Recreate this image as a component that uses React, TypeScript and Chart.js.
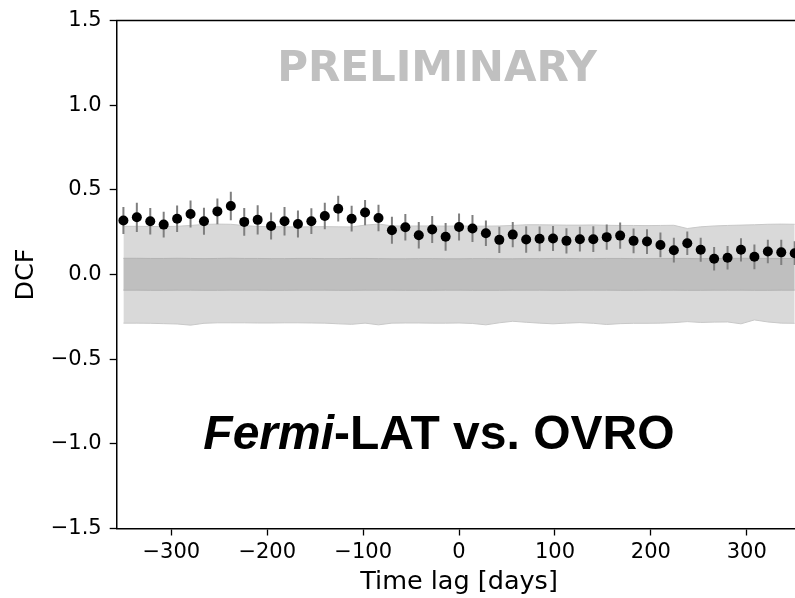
import React, { useEffect, useRef } from "react";
import { Chart, registerables } from "chart.js";

Chart.register(...registerables);

// Time lags (days)
const lags = [
  -350, -336, -322, -308, -294, -280, -266, -252, -238, -224,
  -210, -196, -182, -168, -154, -140, -126, -112, -98, -84,
  -70, -56, -42, -28, -14, 0, 14, 28, 42, 56,
  70, 84, 98, 112, 126, 140, 154, 168, 182, 196,
  210, 224, 238, 252, 266, 280, 294, 308, 322, 336, 350,
];

// DCF values
const dcf = [
  0.319, 0.338, 0.315, 0.295, 0.330, 0.358, 0.315, 0.373, 0.405, 0.311,
  0.323, 0.287, 0.315, 0.299, 0.315, 0.346, 0.389, 0.330, 0.366, 0.334,
  0.262, 0.279, 0.232, 0.266, 0.223, 0.281, 0.272, 0.244, 0.205, 0.236,
  0.207, 0.211, 0.213, 0.199, 0.209, 0.209, 0.221, 0.230, 0.199, 0.195,
  0.175, 0.144, 0.185, 0.146, 0.093, 0.099, 0.146, 0.105, 0.136, 0.131, 0.126,
];

// DCF errors
const dcfErr = [
  0.080, 0.086, 0.078, 0.076, 0.078, 0.080, 0.080, 0.076, 0.084, 0.082,
  0.086, 0.080, 0.084, 0.080, 0.076, 0.078, 0.076, 0.076, 0.075, 0.078,
  0.080, 0.078, 0.078, 0.080, 0.082, 0.080, 0.080, 0.075, 0.078, 0.075,
  0.078, 0.073, 0.074, 0.075, 0.073, 0.076, 0.075, 0.077, 0.073, 0.073,
  0.073, 0.073, 0.069, 0.071, 0.069, 0.069, 0.069, 0.073, 0.069, 0.075, 0.070,
];

// Outer (light) significance band
const outerUpper = [
  0.285, 0.285, 0.284, 0.284, 0.285, 0.290, 0.296, 0.298, 0.297, 0.289,
  0.284, 0.283, 0.282, 0.281, 0.282, 0.283, 0.282, 0.281, 0.292, 0.298,
  0.288, 0.286, 0.287, 0.287, 0.286, 0.287, 0.286, 0.286, 0.287, 0.290,
  0.294, 0.294, 0.293, 0.292, 0.292, 0.293, 0.291, 0.290, 0.290, 0.289,
  0.290, 0.291, 0.272, 0.282, 0.287, 0.290, 0.292, 0.294, 0.297, 0.298, 0.297,
];
const outerLower = [
  -0.287, -0.287, -0.288, -0.290, -0.292, -0.299, -0.288, -0.285, -0.285, -0.285,
  -0.286, -0.286, -0.285, -0.285, -0.286, -0.287, -0.291, -0.294, -0.287, -0.297,
  -0.287, -0.286, -0.286, -0.287, -0.287, -0.286, -0.289, -0.297, -0.285, -0.276,
  -0.282, -0.287, -0.291, -0.287, -0.284, -0.288, -0.295, -0.290, -0.288, -0.288,
  -0.287, -0.284, -0.278, -0.283, -0.281, -0.280, -0.291, -0.268, -0.280, -0.287, -0.288,
];

// Inner (dark) significance band
const innerUpper = [
  0.096, 0.096, 0.095, 0.095, 0.096, 0.095, 0.094, 0.095, 0.096, 0.095,
  0.095, 0.094, 0.094, 0.095, 0.095, 0.094, 0.094, 0.095, 0.095, 0.094,
  0.093, 0.093, 0.094, 0.094, 0.093, 0.093, 0.094, 0.094, 0.093, 0.093,
  0.094, 0.094, 0.095, 0.095, 0.094, 0.094, 0.095, 0.095, 0.094, 0.094,
  0.095, 0.095, 0.095, 0.094, 0.095, 0.095, 0.096, 0.096, 0.095, 0.095, 0.095,
];
const innerLower = [
  -0.092, -0.092, -0.093, -0.093, -0.092, -0.092, -0.093, -0.093, -0.092, -0.092,
  -0.092, -0.093, -0.093, -0.092, -0.092, -0.092, -0.093, -0.093, -0.092, -0.092,
  -0.092, -0.093, -0.093, -0.093, -0.092, -0.092, -0.093, -0.093, -0.093, -0.092,
  -0.092, -0.092, -0.093, -0.093, -0.092, -0.092, -0.092, -0.093, -0.093, -0.092,
  -0.092, -0.092, -0.093, -0.093, -0.092, -0.092, -0.092, -0.093, -0.093, -0.092, -0.092,
];

const xTicks = [-300, -200, -100, 0, 100, 200, 300];
const yTicks = [-1.5, -1.0, -0.5, 0.0, 0.5, 1.0, 1.5];
const xRange = [-357, 357];
const yRange = [-1.5, 1.5];

const watermark = "PRELIMINARY";
const labelItalic = "Fermi";
const labelRest = "-LAT vs. OVRO";
const watermarkPos = { x: -23, y: 1.144 };
const labelPos = { x: -21, y: -1.032 };

const minus = (s: string) => s.replace("-", "\u2212");

const pts = (ys: number[]) => lags.map((l, i) => ({ x: l, y: ys[i] }));

const decorPlugin = {
  id: "decor",
  beforeDatasetDraw(chart: any, args: any) {
    if (args.index !== 4) return;
    const { ctx, chartArea } = chart;
    const xs = chart.scales.x;
    const ys = chart.scales.y;
    ctx.save();
    ctx.beginPath();
    ctx.rect(chartArea.left, chartArea.top, chartArea.right - chartArea.left, chartArea.bottom - chartArea.top);
    ctx.clip();
    ctx.strokeStyle = "#7f7f7f";
    ctx.lineWidth = 2;
    lags.forEach((l, i) => {
      const px = xs.getPixelForValue(l);
      ctx.beginPath();
      ctx.moveTo(px, ys.getPixelForValue(dcf[i] - dcfErr[i]));
      ctx.lineTo(px, ys.getPixelForValue(dcf[i] + dcfErr[i]));
      ctx.stroke();
    });
    ctx.restore();
  },
  afterDraw(chart: any) {
    const { ctx, chartArea } = chart;
    const xs = chart.scales.x;
    const ys = chart.scales.y;
    ctx.save();
    // top spine
    ctx.strokeStyle = "#000";
    ctx.lineWidth = 1.5;
    ctx.beginPath();
    ctx.moveTo(chartArea.left - 0.75, chartArea.top);
    ctx.lineTo(chartArea.right, chartArea.top);
    ctx.stroke();
    // watermark
    ctx.fillStyle = "#c0c0c0";
    ctx.font = 'bold 42px "DejaVu Sans"';
    ctx.textAlign = "center";
    ctx.textBaseline = "alphabetic";
    ctx.fillText(watermark, xs.getPixelForValue(watermarkPos.x), ys.getPixelForValue(watermarkPos.y));
    // label
    const fItalic = 'italic bold 48px "Liberation Sans"';
    const fBold = 'bold 48px "Liberation Sans"';
    ctx.font = fItalic;
    const w1 = ctx.measureText(labelItalic).width;
    ctx.font = fBold;
    const w2 = ctx.measureText(labelRest).width;
    const cx = xs.getPixelForValue(labelPos.x);
    const by = ys.getPixelForValue(labelPos.y);
    const start = cx - (w1 + w2) / 2;
    ctx.textAlign = "left";
    ctx.fillStyle = "#000";
    ctx.font = fItalic;
    ctx.fillText(labelItalic, start, by);
    ctx.font = fBold;
    ctx.fillText(labelRest, start + w1, by);
    ctx.restore();
  },
};

export default function App() {
  const ref = useRef<HTMLCanvasElement | null>(null);

  useEffect(() => {
    if (!ref.current) return;
    const bandLine = {
      type: "line" as const,
      pointRadius: 0,
      borderWidth: 1,
      tension: 0,
    };
    const chart = new Chart(ref.current, {
      type: "line",
      data: {
        datasets: [
          {
            ...bandLine,
            data: pts(outerUpper),
            borderColor: "#c8c8c8",
            backgroundColor: "#d9d9d9",
            fill: 1,
            order: 4,
          },
          {
            ...bandLine,
            data: pts(outerLower),
            borderColor: "#c8c8c8",
            backgroundColor: "#d9d9d9",
            fill: false,
            order: 3,
          },
          {
            ...bandLine,
            data: pts(innerUpper),
            borderColor: "#b3b3b3",
            backgroundColor: "#bfbfbf",
            fill: 3,
            order: 2,
          },
          {
            ...bandLine,
            data: pts(innerLower),
            borderColor: "#b3b3b3",
            backgroundColor: "#bfbfbf",
            fill: false,
            order: 1,
          },
          {
            type: "line",
            data: pts(dcf),
            showLine: false,
            pointRadius: 5,
            pointBackgroundColor: "#000",
            pointBorderColor: "#000",
            pointBorderWidth: 0,
            borderColor: "#000",
            backgroundColor: "#000",
            fill: false,
            order: 0,
          },
        ] as any,
      },
      options: {
        animation: false,
        responsive: false,
        devicePixelRatio: 1,
        events: [],
        layout: { padding: { left: 11, top: 18.5, right: 28.6, bottom: 0 } },
        plugins: {
          legend: { display: false },
          tooltip: { enabled: false },
        },
        scales: {
          x: {
            type: "linear",
            min: xRange[0],
            max: xRange[1],
            afterBuildTicks: (s: any) => {
              s.ticks = xTicks.map((v) => ({ value: v }));
            },
            afterFit: (s: any) => {
              s.height = 69.5;
            },
            grid: {
              drawOnChartArea: false,
              drawTicks: true,
              tickLength: 7,
              tickWidth: 1.3,
              tickColor: "#000",
            },
            border: { display: true, color: "#000", width: 1.5 },
            ticks: {
              color: "#000",
              font: { family: "DejaVu Sans", size: 21 },
              padding: 4,
              maxRotation: 0,
              autoSkip: false,
              callback: (v: any) => minus(String(v)),
            },
            title: {
              display: true,
              text: "Time lag [days]",
              color: "#000",
              font: { family: "DejaVu Sans", size: 25.5 },
              padding: 0,
            },
          },
          y: {
            type: "linear",
            min: yRange[0],
            max: yRange[1],
            afterBuildTicks: (s: any) => {
              s.ticks = yTicks.map((v) => ({ value: v }));
            },
            afterFit: (s: any) => {
              s.width = 105.7;
            },
            grid: {
              drawOnChartArea: false,
              drawTicks: true,
              tickLength: 7,
              tickWidth: 1.3,
              tickColor: "#000",
            },
            border: { display: true, color: "#000", width: 1.5 },
            ticks: {
              color: "#000",
              font: { family: "DejaVu Sans", size: 21 },
              padding: 8,
              callback: (v: any) => minus(Number(v).toFixed(1)),
            },
            title: {
              display: true,
              text: "DCF",
              color: "#000",
              font: { family: "DejaVu Sans", size: 25.5 },
              padding: 0,
            },
          },
        },
      } as any,
      plugins: [decorPlugin as any],
    });
    return () => chart.destroy();
  }, []);

  return (
    <div
      style={{
        position: "fixed",
        left: 0,
        top: 0,
        width: 795,
        height: 598,
        overflow: "hidden",
        background: "#fff",
      }}
    >
      <canvas ref={ref} width={830} height={598} style={{ display: "block", width: 830, height: 598 }} />
    </div>
  );
}
